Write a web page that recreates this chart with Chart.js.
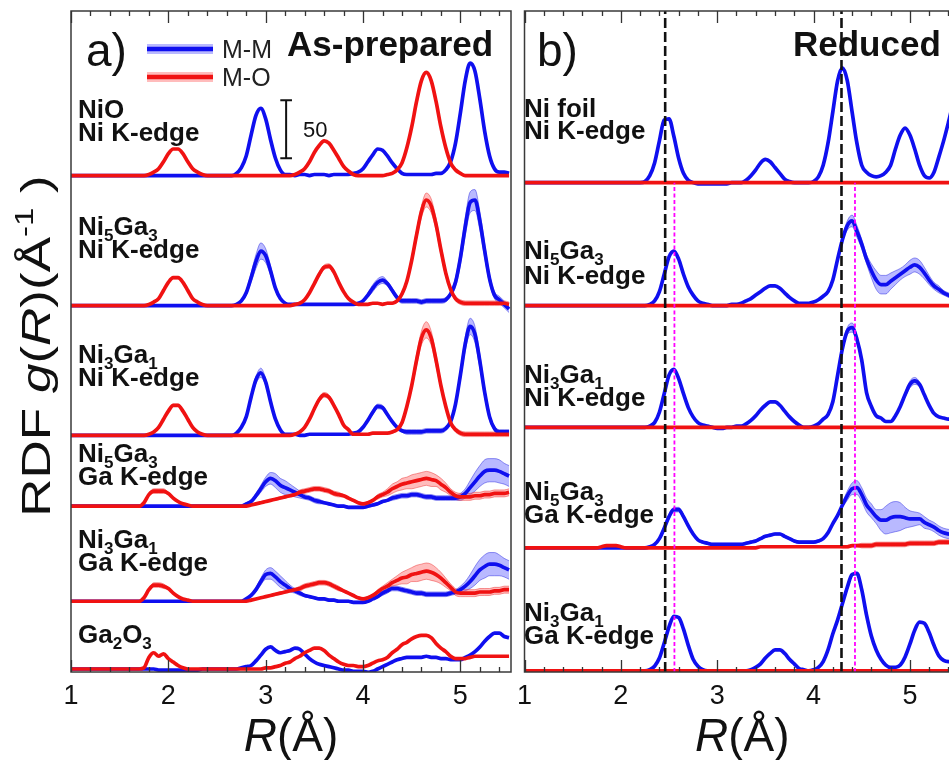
<!DOCTYPE html>
<html><head><meta charset="utf-8">
<script src="https://cdn.jsdelivr.net/npm/chart.js@4.4.1/dist/chart.umd.min.js"></script>
<style>
html,body{margin:0;padding:0;background:#fff;overflow:hidden;width:949px;height:760px;position:relative;}
#c1{position:absolute;left:0;top:0;}
#c2{position:absolute;left:509px;top:0;}
</style></head><body>
<canvas id="c1" width="516" height="760"></canvas>
<canvas id="c2" width="453" height="760"></canvas>
<script>
// ---------- shared R grid (Å) ----------
const R = [
1.00,1.05,1.10,1.15,1.20,1.25,1.30,1.35,1.40,1.45,
1.50,1.55,1.60,1.65,1.70,1.75,1.80,1.85,1.90,1.95,
2.00,2.05,2.10,2.15,2.20,2.25,2.30,2.35,2.40,2.45,
2.50,2.55,2.60,2.65,2.70,2.75,2.80,2.85,2.90,2.95,
3.00,3.05,3.10,3.15,3.20,3.25,3.30,3.35,3.40,3.45,
3.50,3.55,3.60,3.65,3.70,3.75,3.80,3.85,3.90,3.95,
4.00,4.05,4.10,4.15,4.20,4.25,4.30,4.35,4.40,4.45,
4.50,4.55,4.60,4.65,4.70,4.75,4.80,4.85,4.90,4.95,
5.00,5.05,5.10,5.15,5.20,5.25,5.30,5.35,5.40,5.45,
5.50];
const xTickValues = [1,2,3,4,5];

// ---------- panel a) As-prepared (g(R), unshifted) ----------
const niO_MM = [
0,0,0,0,0,0,0,0,0,0, 0,0,0,0,0,0,0,0,0,0, 0,0,0,0,0,0,0,0,0,0,
0,0,0,0,2,7,17,35,52,58, 49,31,15,5,1,1,0,1,1,0, 1,1,1,0,1,1,1,1,2,3,
6,12,18,23,22,17,11,6,2,1, 1,1,1,1,1,2,2,5,12,28, 54,82,97,90,66,38,17,6,3,3, 2];
const niO_MO = [
0,0,0,0,0,0,0,0,0,0, 0,0,0,0,0,0,1,3,6,12, 19,23,23,19,12,6,3,1,0,0,
0,0,0,0,0,0,0,0,0,0, 0,0,0,0,0,0,1,3,6,12, 20,26,30,28,22,15,8,4,1,0,
0,0,0,0,0,1,2,5,11,24, 42,64,82,89,82,64,42,24,11,5, 2,0,0,0,0,0,0,0,0,0, 0];

const n53Ni_MM = [
0,0,0,0,0,0,0,0,0,0, 0,0,0,0,0,0,0,0,0,0, 0,0,0,0,0,0,0,0,0,0,
0,0,0,0,1,4,11,24,38,47, 43,30,15,6,2,1,1,1,1,1, 1,1,1,1,1,1,1,1,1,2,
4,9,15,20,22,19,13,7,4,4, 4,4,3,4,4,4,4,5,10,20, 41,68,89,91,73,47,23,9,5,1, -3];
const n53Ni_MMband = [
0,0,0,0,0,0,0,0,0,0, 0,0,0,0,0,0,0,0,0,0, 0,0,0,0,0,0,0,0,0,0,
0,0,0,0,0,1,2,4,6,7, 6,4,2,1,0,0,0,0,0,0, 0,0,0,0,0,0,0,0,0,0,
0,2,3,3,3,2,2,2,2,2, 2,2,2,2,2,2,2,2,2,4, 6,8,9,9,8,6,4,3,3,3, 3];
const n53Ni_MO = [
0,0,0,0,0,0,0,0,0,0, 0,0,0,0,0,0,1,3,6,13, 20,24,24,20,13,6,3,1,0,0,
0,0,0,0,0,0,0,0,0,0, 0,0,0,0,0,0,1,2,5,11, 19,27,33,34,29,20,12,6,3,1,
1,1,2,2,1,2,2,4,10,21, 39,61,81,91,86,70,48,28,14,6, 3,2,2,2,2,2,2,2,2,2, 1];
const n53Ni_MOband = [
0,0,0,0,0,0,0,0,0,0, 0,0,0,0,0,0,0,1,1,1, 1,1,1,1,1,1,0,0,0,0,
0,0,0,0,0,0,0,0,0,0, 0,0,0,0,0,0,0,0,1,1, 1,2,2,2,2,1,1,0,0,0,
0,0,0,0,0,1,1,1,2,2, 3,4,5,6,6,5,4,3,2,2, 2,2,2,2,2,2,2,2,2,2, 2];

const n31Ni_MM = [
0,0,0,0,0,0,0,0,0,0, 0,0,0,0,0,0,0,0,0,0, 0,0,0,0,0,0,0,0,0,0,
0,0,0,0,2,7,16,33,48,54, 46,29,14,5,1,1,1,0,0,1, 1,1,1,1,1,1,1,1,2,3,
7,13,20,25,24,18,12,7,4,3, 3,3,3,4,4,4,4,6,12,27, 52,79,94,87,64,37,16,6,3,3, 3];
const n31Ni_MMband = [
0,0,0,0,0,0,0,0,0,0, 0,0,0,0,0,0,0,0,0,0, 0,0,0,0,0,0,0,0,0,0,
0,0,0,0,0,1,1,2,3,4, 3,2,1,0,0,0,0,0,0,0, 0,0,0,0,0,0,0,0,0,0,
1,1,2,2,2,1,1,1,1,2, 2,2,2,2,2,2,2,2,2,2, 4,6,7,7,6,4,3,2,2,2, 2];
const n31Ni_MO = [
0,0,0,0,0,0,0,0,0,0, 0,0,0,0,0,0,1,3,7,14, 21,26,26,21,14,7,3,1,0,0,
0,0,0,0,0,0,0,0,0,0, 0,0,0,0,0,0,1,3,7,14, 23,31,35,33,26,18,9,5,1,1,
1,1,2,2,2,2,3,5,11,25, 43,65,84,91,84,65,43,25,11,5, 2,1,1,1,1,1,1,1,1,1, 1];
const n31Ni_MOband = [
0,0,0,0,0,0,0,0,0,0, 0,0,0,0,0,0,0,1,1,1, 1,1,1,1,1,0,0,0,0,0,
0,0,0,0,0,0,0,0,0,0, 0,0,0,0,0,0,0,0,1,1, 1,2,2,2,1,1,1,0,0,0,
0,0,0,0,0,0,1,1,2,2, 3,5,6,7,6,5,3,2,2,2, 2,2,2,2,2,2,2,2,2,2, 2];

const n53Ga_MM = [
0,0,0,0,0,0,0,0,0,0, 0,0,0,0,0,0,0,0,0,0, 0,0,0,0,0,0,0,0,0,0,
0,0,0,0,0,0,2,4,9,15, 21,24,22,18,16,14,12,10,8,7, 5,4,3,2,1,0,0,-1,-1,-1,
-1,0,1,2,4,5,7,8,9,9, 10,10,9,8,8,7,7,7,7,7, 8,11,16,21,26,30,31,31,30,28, 26];
const n53Ga_MMband = [
0,0,0,0,0,0,0,0,0,0, 0,0,0,0,0,0,0,0,0,0, 0,0,0,0,0,0,0,0,0,0,
0,0,0,0,0,0,1,1,2,3, 4,5,6,6,6,5,4,3,2,2, 2,2,1,1,1,1,1,1,1,1,
1,1,1,1,1,1,2,2,2,2, 2,2,2,2,2,2,2,2,2,2, 3,4,6,8,9,10,10,10,10,9, 9];
const n53Ga_MO = [
0,0,0,0,0,0,0,0,0,0, 0,0,0,0,0,3,10,13,13,13, 11,7,4,2,1,0,0,0,0,0,
0,0,0,0,0,0,0,1,2,3, 4,5,6,7,8,9,10,12,13,14, 15,15,14,13,11,10,9,7,5,3,
2,3,5,8,10,12,15,17,19,20, 21,22,23,24,23,22,19,16,12,9, 8,8,8,9,9,10,10,11,11,11, 12];
const n53Ga_MOband = [
0,0,0,0,0,0,0,0,0,0, 0,0,0,0,0,1,1,2,2,2, 1,1,1,0,0,0,0,0,0,0,
0,0,0,0,0,0,0,0,0,0, 0,0,1,1,1,1,1,2,2,2, 2,2,2,2,2,2,1,1,1,1,
1,1,1,2,2,3,4,4,5,5, 6,6,6,6,6,5,5,4,3,3, 3,3,3,3,3,3,3,3,3,3, 3];

const n31Ga_MM = [
0,0,0,0,0,0,0,0,0,0, 0,0,0,0,0,0,0,0,0,0, 0,0,0,0,0,0,0,0,0,0,
0,0,0,0,0,0,2,5,10,17, 23,24,21,17,14,11,9,7,5,4, 3,2,2,1,1,0,0,0,-1,-1,
-1,0,2,4,7,9,11,11,10,9, 8,7,7,6,6,6,6,6,7,8, 10,13,17,22,27,30,32,32,31,29, 27];
const n31Ga_MMband = [
0,0,0,0,0,0,0,0,0,0, 0,0,0,0,0,0,0,0,0,0, 0,0,0,0,0,0,0,0,0,0,
0,0,0,0,0,0,1,1,2,3, 4,5,5,5,4,3,2,2,1,1, 1,1,1,1,1,1,1,1,1,1,
1,1,1,1,2,2,2,2,2,2, 2,2,2,2,2,2,2,2,2,2, 3,4,6,8,9,10,10,10,9,8, 8];
const n31Ga_MO = [
0,0,0,0,0,0,0,0,0,0, 0,0,0,0,0,3,10,14,14,13, 11,7,4,2,1,0,0,0,0,0,
0,0,0,0,0,0,0,1,2,3, 4,5,6,7,8,9,10,11,13,14, 15,16,16,15,13,11,9,7,5,3,
2,3,5,8,11,13,16,18,20,21, 23,24,25,26,25,23,20,16,12,8, 7,7,7,7,8,8,8,9,9,10, 10];
const n31Ga_MOband = [
0,0,0,0,0,0,0,0,0,0, 0,0,0,0,0,1,1,2,2,2, 1,1,1,0,0,0,0,0,0,0,
0,0,0,0,0,0,0,0,0,0, 0,0,1,1,1,1,1,2,2,2, 2,2,2,2,2,2,1,1,1,1,
1,1,1,2,2,3,3,4,5,6, 6,7,7,7,7,6,5,4,3,3, 3,3,3,3,3,3,3,3,3,3, 3];

const ga2o3_MM = [
0,0,0,0,0,0,0,0,0,0, 0,0,0,0,0,0,0,0,-1,-1, -1,-1,-1,-1,-1,-1,-1,0,0,0,
0,0,0,0,0,1,2,3,7,12, 17,19,16,14,15,16,18,17,13,9, 6,4,3,2,1,0,-1,-1,-2,-2,
-2,-3,-2,0,2,4,6,8,9,10, 10,10,10,11,10,10,9,9,8,8, 8,10,12,15,19,24,28,31,31,28, 27];
const ga2o3_MO = [
0,0,0,0,0,0,0,0,0,0, 0,0,0,0,0,1,10,14,11,13, 9,6,3,1,0,0,0,0,0,0,
0,0,0,0,0,0,0,0,0,0, 1,1,2,3,5,6,9,11,14,16, 18,18,16,12,9,6,4,3,3,2,
2,3,5,7,8,10,14,17,21,23, 26,28,29,29,27,22,18,15,11,9, 9,9,10,11,11,11,11,11,11,11, 11];

// ---------- panel b) Reduced ----------
const foil_MM = [
0,0,0,0,0,0,0,0,0,0, 0,0,0,0,0,0,0,0,0,0, 0,0,0,0,0,1,6,17,36,54,
55,40,21,8,2,0,-1,-1,-1,-1, -1,-1,-1,0,0,0,2,6,11,17, 20,18,13,8,3,1,0,0,0,0,
1,5,15,34,61,88,99,88,61,34, 15,9,6,5,6,9,15,29,41,47, 41,29,15,6,4,9,22,36,52,69, 82];
const foil_MO = [
0,0,0,0,0,0,0,0,0,0, 0,0,0,0,0,0,0,0,0,0, 0,0,0,0,0,0,0,0,0,0,
0,0,0,0,0,0,0,0,0,0, 0,0,0,0,0,0,0,0,0,0, 0,0,0,0,0,0,0,0,0,0,
0,0,0,0,0,0,0,0,0,0, 0,0,0,0,0,0,0,0,0,0, 0,0,0,0,0,0,0,0,0,0, 0];

const r53Ni_MM = [
0,0,0,0,0,0,0,0,0,0, 0,0,0,0,0,0,0,0,0,0, 0,0,0,0,0,0,1,4,12,27,
42,47,40,27,16,9,4,2,1,0, 0,0,0,1,1,2,4,6,9,12, 15,17,17,15,11,7,4,2,2,2,
3,5,8,12,22,40,57,69,73,64, 53,40,30,22,18,18,21,24,27,30, 33,35,33,28,22,17,14,11,9,7, 6];
const r53Ni_MMband = [
0,0,0,0,0,0,0,0,0,0, 0,0,0,0,0,0,0,0,0,0, 0,0,0,0,0,0,0,0,0,0,
0,0,0,0,0,0,0,0,0,0, 0,0,0,0,0,0,0,0,0,0, 0,0,0,0,0,0,0,0,0,0,
0,0,0,0,1,1,2,4,5,5, 4,4,6,8,8,8,7,6,5,5, 6,6,6,5,4,3,3,2,2,2, 2];
const r53Ni_MO = [
0,0,0,0,0,0,0,0,0,0, 0,0,0,0,0,0,0,0,0,0, 0,0,0,0,0,0,0,0,0,0,
0,0,0,0,0,0,0,0,0,0, 0,0,0,0,0,0,0,0,0,0, 0,0,0,0,0,0,0,0,0,0,
0,0,0,0,0,0,0,0,0,0, 0,0,0,0,0,0,0,0,0,0, 0,0,0,0,0,0,0,0,0,0, 0];

const r31Ni_MM = [
0,0,0,0,0,0,0,0,0,0, 0,0,0,0,0,0,0,0,0,0, 0,0,0,0,0,0,1,4,13,29,
45,50,42,29,17,9,4,2,1,0, -1,-1,0,0,1,1,3,6,10,15, 19,22,22,19,14,9,5,2,0,0,
1,3,7,11,22,45,68,83,86,76, 58,30,18,10,8,5,5,10,18,28, 37,40,37,28,19,12,9,8,7,7, 7];
const r31Ni_MMband = [
0,0,0,0,0,0,0,0,0,0, 0,0,0,0,0,0,0,0,0,0, 0,0,0,0,0,0,0,0,0,0,
0,0,0,0,0,0,0,0,0,0, 0,0,0,0,0,0,0,0,0,0, 0,0,0,0,0,0,0,0,0,0,
0,0,0,0,0,1,2,3,4,3, 2,1,0,0,0,0,0,0,1,2, 3,3,2,1,0,0,0,0,0,0, 0];
const r31Ni_MO = [
0,0,0,0,0,0,0,0,0,0, 0,0,0,0,0,0,0,0,0,0, 0,0,0,0,0,0,0,0,0,0,
0,0,0,0,0,0,0,0,0,0, 0,0,0,0,0,0,0,0,0,0, 0,0,0,0,0,0,0,0,0,0,
0,0,0,0,0,0,0,0,0,0, 0,0,0,0,0,0,0,0,0,0, 0,0,0,0,0,0,0,0,0,0, 0];

const r53Ga_MM = [
0,0,0,0,0,0,0,0,0,0, 0,0,0,0,0,0,0,0,0,0, 0,0,0,0,0,0,1,3,8,17,
27,33,33,27,19,12,7,5,4,3, 3,3,3,3,3,3,4,5,6,8, 10,11,12,12,10,8,6,5,5,5,
5,6,8,13,21,28,37,45,51,52, 46,37,32,27,24,24,26,27,27,26, 25,25,25,22,20,18,15,13,12,11, 10];
const r53Ga_MMband = [
0,0,0,0,0,0,0,0,0,0, 0,0,0,0,0,0,0,0,0,0, 0,0,0,0,0,0,0,1,1,2,
2,2,2,2,1,1,1,1,1,1, 1,1,1,1,1,1,1,1,1,1, 1,1,1,1,1,1,1,1,1,1,
1,1,1,1,1,1,2,4,5,6, 6,6,6,6,9,12,13,13,12,9, 7,6,5,5,4,4,4,4,4,4, 4];
const r53Ga_MO = [
0,0,0,0,0,0,0,0,0,0, 0,0,0,0,0,0,1,2,2,2, 1,0,0,0,0,0,0,0,0,0,
0,0,0,0,0,0,0,0,0,0, 0,0,0,0,0,0,0,0,0,1, 1,1,1,1,1,1,1,1,1,1,
1,1,1,1,1,1,1,1,2,2, 2,2,2,3,3,3,3,3,3,3, 4,4,4,4,4,4,5,5,5,5, 5];
const r53Ga_MOband = [
0,0,0,0,0,0,0,0,0,0, 0,0,0,0,0,0,0,0,0,0, 0,0,0,0,0,0,0,0,0,0,
0,0,0,0,0,0,0,0,0,0, 0,0,0,0,0,0,0,0,0,0, 0,0,0,0,0,0,0,0,0,0,
0,0,0,0,0,0,1,1,1,1, 2,2,2,2,2,2,2,2,2,2, 2,2,2,2,2,2,2,2,2,2, 2];

const r31Ga_MM = [
0,0,0,0,0,0,0,0,0,0, 0,0,0,0,0,0,0,0,0,0, 0,0,0,0,0,0,1,4,11,24,
38,47,46,36,22,10,4,1,0,0, 0,0,0,0,0,0,0,1,3,6, 11,15,18,18,15,10,6,2,1,0,
1,3,8,18,32,44,58,72,83,84, 70,48,30,18,10,5,3,3,5,12, 23,35,42,41,33,22,13,9,8,8, 8];
const r31Ga_MO = [
0,0,0,0,0,0,0,0,0,0, 0,0,0,0,0,0,0,0,0,0, 0,0,0,0,0,0,0,0,0,0,
0,0,0,0,0,0,0,0,0,0, 0,0,0,0,0,0,0,0,0,0, 0,0,0,0,0,0,0,0,0,0,
0,0,0,0,0,0,0,0,0,0, 0,0,0,0,0,0,0,0,0,0, 0,0,0,0,0,0,0,0,0,0, 0];

// vertical offsets of the stacked curves (g(R) units)
const leftOffsets  = [428, 316, 204, 143, 61, 2.6];
const rightOffsets = [422, 316, 211, 107, 1];
// reference lines (Å)
const niFoilLines = [2.46, 4.29];
const alloyLines  = [2.556, 4.43];
// scale bar: 50 g(R) units
const scaleBarR = 3.21, scaleBarBase = 443, scaleBarLen = 50;

const leftLabels = [
  {t:['NiO','Ni K-edge'], y:[118,141]},
  {t:['Ni_5Ga_3','Ni K-edge'], y:[235,258]},
  {t:['Ni_3Ga_1','Ni K-edge'], y:[363,386]},
  {t:['Ni_5Ga_3','Ga K-edge'], y:[462,485]},
  {t:['Ni_3Ga_1','Ga K-edge'], y:[548,571]},
  {t:['Ga_2O_3'], y:[643]}
];
const rightLabels = [
  {t:['Ni foil','Ni K-edge'], y:[117,139]},
  {t:['Ni_5Ga_3','Ni K-edge'], y:[259,284]},
  {t:['Ni_3Ga_1','Ni K-edge'], y:[383,406]},
  {t:['Ni_5Ga_3','Ga K-edge'], y:[500,523]},
  {t:['Ni_3Ga_1','Ga K-edge'], y:[621,644]}
];

// ---------- styling ----------
const FONT = '"Liberation Sans", Arial, Helvetica, sans-serif';
const BLUE = '#0f0fef', RED = '#f01212';
const BLUE_BAND = 'rgba(70,70,255,0.38)', BLUE_EDGE = 'rgba(20,20,220,0.55)';
const RED_BAND = 'rgba(255,80,80,0.38)', RED_EDGE = 'rgba(235,30,30,0.55)';
const R_MIN = 1, R_MAX = 5.52, Y_MAX = 570;

function pts(vals, off, band, sign) {
  return R.map((r, i) => ({x: r, y: vals[i] + off + (band ? sign * band[i] : 0)}));
}
function lineDs(data, color, order) {
  return {data, borderColor: color, borderWidth: 3.7, pointRadius: 0, fill: false,
          cubicInterpolationMode: 'monotone', order};
}
function addBand(ds, vals, band, off, fillC, edgeC, order) {
  ds.push({data: pts(vals, off, band, -1), borderColor: edgeC, borderWidth: 0.8, pointRadius: 0,
           fill: false, cubicInterpolationMode: 'monotone', order});
  const low = ds.length - 1;
  ds.push({data: pts(vals, off, band, 1), borderColor: edgeC, borderWidth: 0.8, pointRadius: 0,
           fill: low, backgroundColor: fillC, cubicInterpolationMode: 'monotone', order});
}
function panelDatasets(traces, offs) {
  const ds = [];
  traces.forEach((t, k) => ds.push(lineDs(pts(t.mo, offs[k]), RED, 2)));
  traces.forEach((t, k) => ds.push(lineDs(pts(t.mm, offs[k]), BLUE, 3)));
  traces.forEach((t, k) => {
    if (t.mob) addBand(ds, t.mo, t.mob, offs[k], RED_BAND, RED_EDGE, 4);
    if (t.mmb) addBand(ds, t.mm, t.mmb, offs[k], BLUE_BAND, BLUE_EDGE, 5);
  });
  return ds;
}

const leftTraces = [
  {mm: niO_MM, mo: niO_MO},
  {mm: n53Ni_MM, mo: n53Ni_MO, mmb: n53Ni_MMband, mob: n53Ni_MOband},
  {mm: n31Ni_MM, mo: n31Ni_MO, mmb: n31Ni_MMband, mob: n31Ni_MOband},
  {mm: n53Ga_MM, mo: n53Ga_MO, mmb: n53Ga_MMband, mob: n53Ga_MOband},
  {mm: n31Ga_MM, mo: n31Ga_MO, mmb: n31Ga_MMband, mob: n31Ga_MOband},
  {mm: ga2o3_MM, mo: ga2o3_MO}
];
const rightTraces = [
  {mm: foil_MM, mo: foil_MO},
  {mm: r53Ni_MM, mo: r53Ni_MO, mmb: r53Ni_MMband},
  {mm: r31Ni_MM, mo: r31Ni_MO, mmb: r31Ni_MMband},
  {mm: r53Ga_MM, mo: r53Ga_MO, mmb: r53Ga_MMband, mob: r53Ga_MOband},
  {mm: r31Ga_MM, mo: r31Ga_MO}
];

const leftDs = panelDatasets(leftTraces, leftOffsets);
// scale bar (drawn through scales)
leftDs.push({data: [
  {x: scaleBarR - 0.06, y: scaleBarBase + scaleBarLen}, {x: scaleBarR + 0.06, y: scaleBarBase + scaleBarLen},
  {x: scaleBarR, y: scaleBarBase + scaleBarLen}, {x: scaleBarR, y: scaleBarBase},
  {x: scaleBarR - 0.06, y: scaleBarBase}, {x: scaleBarR + 0.06, y: scaleBarBase}],
  borderColor: '#111', borderWidth: 2, pointRadius: 0, fill: false, tension: 0, order: 0});

const rightDs = panelDatasets(rightTraces, rightOffsets);
niFoilLines.forEach(v => rightDs.push({data: [{x: v, y: 0}, {x: v, y: Y_MAX}],
  borderColor: '#111', borderWidth: 2.6, borderDash: [10, 4], pointRadius: 0, fill: false, tension: 0, order: 0}));
alloyLines.forEach(v => rightDs.push({data: [{x: v, y: 0}, {x: v, y: rightOffsets[0]}],
  borderColor: '#ff00ff', borderWidth: 1.8, borderDash: [4, 2.5], pointRadius: 0, fill: false, tension: 0, order: 1}));

// ---------- text helpers ----------
function fnt(style, weight, size) { return `${style} ${weight} ${size}px ${FONT}`; }
function parseLabel(str) {
  const segs = []; let buf = '';
  for (let i = 0; i < str.length; i++) {
    if (str[i] === '_') { if (buf) segs.push([buf, '']); buf = ''; segs.push([str[i + 1], 'sub']); i++; }
    else buf += str[i];
  }
  if (buf) segs.push([buf, '']);
  return segs;
}
function segFont(kind, size, weight) {
  let s = size, dy = 0, st = 'normal';
  if (kind === 'sub') { s = Math.round(size * 0.66); dy = size * 0.24; }
  if (kind === 'sup') { s = Math.round(size * 0.62); dy = -size * 0.42; }
  if (kind === 'it') st = 'italic';
  return {f: fnt(st, weight, s), dy};
}
function measureSegs(ctx, segs, size, weight) {
  let w = 0;
  segs.forEach(([t, k]) => { ctx.font = segFont(k, size, weight).f; w += ctx.measureText(t).width; });
  return w;
}
function drawSegs(ctx, x, y, segs, size, weight) {
  let cx = x;
  segs.forEach(([t, k]) => {
    const sf = segFont(k, size, weight);
    ctx.font = sf.f; ctx.fillText(t, cx, y + sf.dy);
    cx += ctx.measureText(t).width;
  });
}

function decoPlugin(cfg) {
  return {
    id: 'deco',
    afterDatasetsDraw(chart) {
      const {ctx, chartArea: a, scales: {x}} = chart;
      ctx.save();
      // frame
      ctx.strokeStyle = '#3a3a3a'; ctx.lineWidth = 1.5;
      ctx.strokeRect(a.left, a.top, a.right - a.left, a.bottom - a.top);
      // inward ticks every 0.2 Å, longer at integers
      ctx.lineWidth = 1.3; ctx.strokeStyle = '#333';
      for (let k = 0; k <= 25; k++) {
        const v = R_MIN + k * 0.2;
        if (v > R_MAX + 1e-9) break;
        const px = Math.round(x.getPixelForValue(v)) + 0.5;
        const L = (k % 5 === 0) ? 12 : 5;
        ctx.beginPath();
        ctx.moveTo(px, a.bottom); ctx.lineTo(px, a.bottom - L);
        ctx.moveTo(px, a.top); ctx.lineTo(px, a.top + L);
        ctx.stroke();
      }
      ctx.restore();
    },
    afterDraw(chart) {
      const {ctx, chartArea: a} = chart;
      const ox = cfg.canvasLeft;
      ctx.save();
      ctx.fillStyle = '#111'; ctx.textBaseline = 'alphabetic'; ctx.textAlign = 'left';
      // panel tag
      ctx.font = fnt('normal', 'normal', 46); ctx.fillText(cfg.tag, cfg.tagX - ox, 66);
      ctx.font = fnt('normal', 'bold', 35); ctx.fillText(cfg.title, cfg.titleX - ox, 56);
      // trace labels
      cfg.labels.forEach(l => l.t.forEach((s, j) => drawSegs(ctx, cfg.labelX - ox, l.y[j], parseLabel(s), 26, 'bold')));
      // x title
      const xt = [['R', 'it'], ['(Å)', '']];
      const w = measureSegs(ctx, xt, 46, 'normal');
      drawSegs(ctx, (a.left + a.right) / 2 - w / 2, 751, xt, 46, 'normal');
      if (cfg.extra) cfg.extra(ctx);
      ctx.restore();
    }
  };
}

const leftExtra = ctx => {
  // legend
  [[BLUE, BLUE_BAND, 49, 'M-M'], [RED, RED_BAND, 77, 'M-O']].forEach(([c, b, y, t]) => {
    ctx.lineCap = 'butt';
    ctx.strokeStyle = b; ctx.lineWidth = 10;
    ctx.beginPath(); ctx.moveTo(147, y); ctx.lineTo(213, y); ctx.stroke();
    ctx.strokeStyle = c; ctx.lineWidth = 4.5;
    ctx.beginPath(); ctx.moveTo(147, y); ctx.lineTo(213, y); ctx.stroke();
    ctx.fillStyle = '#222'; ctx.font = fnt('normal', 'normal', 25);
    ctx.fillText(t, 222, y + 9);
  });
  ctx.fillStyle = '#111'; ctx.font = fnt('normal', 'normal', 22);
  ctx.fillText('50', 303, 137);
  // y title (rotated, slightly condensed across the line as in the source figure)
  ctx.save();
  ctx.translate(50, 346); ctx.rotate(-Math.PI / 2); ctx.scale(1, 0.76);
  const yt = [['RDF ', ''], ['g', 'it'], ['(', ''], ['R', 'it'], [')(Å', ''], ['-1', 'sup'], [' )', '']];
  const w = measureSegs(ctx, yt, 53, 'normal');
  drawSegs(ctx, -w / 2, 0, yt, 53, 'normal');
  ctx.restore();
};

function makeChart(id, datasets, padL, padR, plugin) {
  return new Chart(document.getElementById(id), {
    type: 'line',
    data: {datasets},
    options: {
      responsive: false, animation: false, devicePixelRatio: 1,
      layout: {padding: {left: padL, right: padR, top: 11, bottom: 0}},
      plugins: {legend: {display: false}, tooltip: {enabled: false}},
      elements: {point: {radius: 0}},
      scales: {
        x: {type: 'linear', min: R_MIN, max: R_MAX,
            afterBuildTicks: s => { s.ticks = xTickValues.map(v => ({value: v})); },
            afterFit: s => { s.height = 88; },
            ticks: {autoSkip: false, maxRotation: 0, padding: 8, color: '#111',
                    font: {family: FONT, size: 27}, callback: v => String(v)},
            grid: {display: false, drawTicks: false}, border: {display: false}},
        y: {display: false, min: 0, max: Y_MAX}
      }
    },
    plugins: [plugin]
  });
}

makeChart('c1', leftDs, 71, 5, decoPlugin({canvasLeft: 0, tag: 'a)', tagX: 86, title: 'As-prepared', titleX: 287,
  labels: leftLabels, labelX: 78, extra: leftExtra}));
makeChart('c2', rightDs, 10, 2, decoPlugin({canvasLeft: 509, tag: 'b)', tagX: 537, title: 'Reduced', titleX: 793,
  labels: rightLabels, labelX: 524}));
</script>
</body></html>
